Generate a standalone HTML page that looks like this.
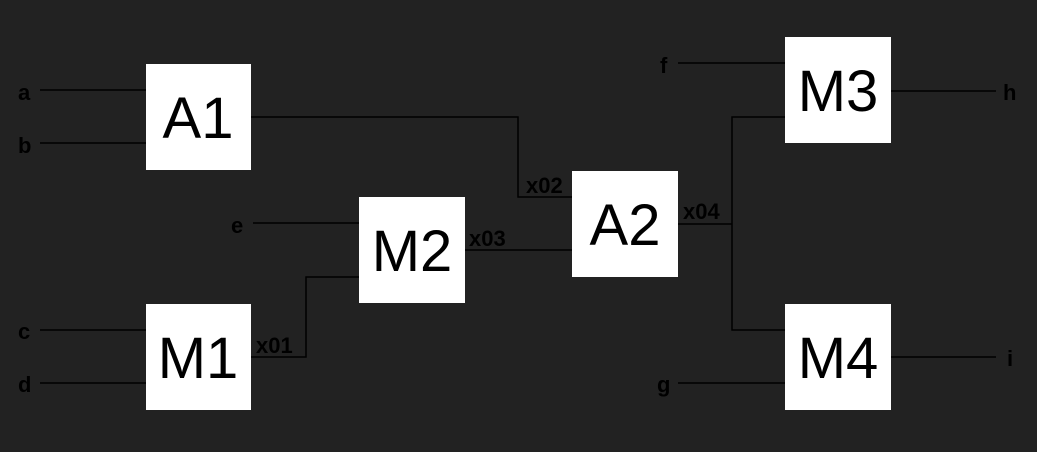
<!DOCTYPE html>
<html><head><meta charset="utf-8"><style>
html,body{margin:0;padding:0;background:#222;}
svg{display:block;}
text{font-family:"Liberation Sans",sans-serif;fill:#000;}
.lbl text{font-size:22px;font-weight:bold;}
.box text{font-size:58px;}
</style></head><body>
<svg width="1037" height="452" viewBox="0 0 1037 452">
<rect width="1037" height="452" fill="#222"/>
<g stroke="#000" stroke-width="1.5" fill="none">
<polyline points="40,90 146,90"/>
<polyline points="40,143 146,143"/>
<polyline points="251,117 518,117 518,197 572,197"/>
<polyline points="253,223 359,223"/>
<polyline points="464,250 572,250"/>
<polyline points="40,330 146,330"/>
<polyline points="40,383 146,383"/>
<polyline points="251,357 306,357 306,277 359,277"/>
<polyline points="678,224 732,224"/>
<polyline points="785,117 732,117 732,330 785,330"/>
<polyline points="678,63 785,63"/>
<polyline points="678,383 785,383"/>
<polyline points="890,91 996,91"/>
<polyline points="890,357 996,357"/>
</g>
<g fill="#fff">
<rect x="146" y="64" width="105" height="106"/>
<rect x="572" y="171" width="106" height="106"/>
<rect x="359" y="197" width="106" height="106"/>
<rect x="146" y="304" width="105" height="106"/>
<rect x="785" y="37" width="106" height="106"/>
<rect x="785" y="304" width="106" height="106"/>
</g>
<g class="box" text-anchor="middle">
<text x="198" y="138">A1</text>
<text x="625" y="245">A2</text>
<text x="412" y="271">M2</text>
<text x="198" y="378">M1</text>
<text x="838" y="111">M3</text>
<text x="838" y="378">M4</text>
</g>
<g class="lbl">
<text x="18" y="100">a</text>
<text x="18" y="153">b</text>
<text x="231" y="233">e</text>
<text x="18" y="339">c</text>
<text x="18" y="392">d</text>
<text x="660" y="73">f</text>
<text x="657" y="392">g</text>
<text x="1003" y="100">h</text>
<text x="1007" y="366">i</text>
<text x="256" y="353">x01</text>
<text x="526" y="193">x02</text>
<text x="469" y="246">x03</text>
<text x="683" y="219">x04</text>
</g>
</svg>
</body></html>
